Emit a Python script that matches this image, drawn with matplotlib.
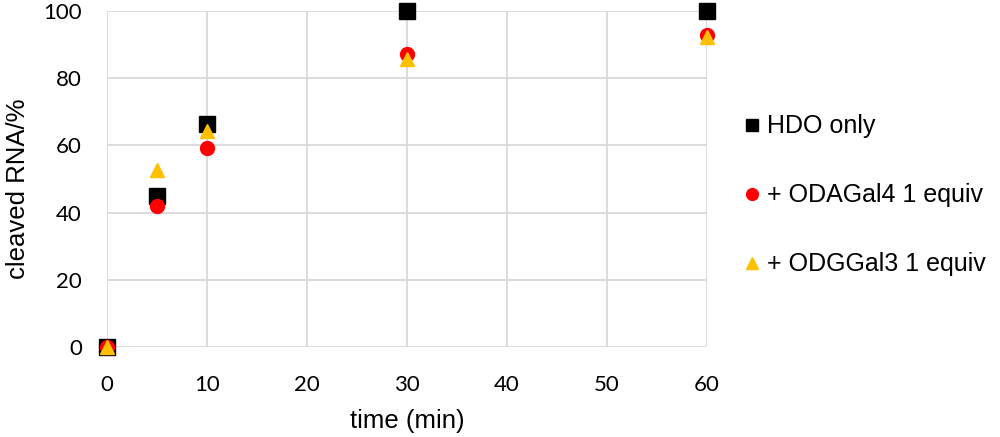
import numpy as np
import matplotlib.pyplot as plt

# time points (min)
time_min = [0, 5, 10, 30, 60]

# cleaved RNA (%)
hdo_only = [0, 45, 66.5, 100, 100]
odagal4 = [0, 42, 59.3, 87.3, 92.7]
odggal3 = [0, 52.7, 64.3, 85.8, 92.3]

labels = ['HDO only', '+ ODAGal4 1 equiv', '+ ODGGal3 1 equiv']

fig = plt.figure(figsize=(10, 4.37), dpi=100)
ax = fig.add_axes([0.107, 0.206, 0.6, 0.769])

ax.plot(time_min, hdo_only, 's', color='black', markersize=11, label=labels[0],
        clip_on=False, zorder=3)
ax.plot(time_min, odagal4, 'o', color='#ff0000', markersize=10, label=labels[1],
        clip_on=False, zorder=4)
ax.plot(time_min, odggal3, '^', color='#ffc000', markersize=9.5, label=labels[2],
        clip_on=False, zorder=5)

ax.set_xlim(0, 60)
ax.set_ylim(0, 100)
ax.set_xticks(np.arange(0, 61, 10))
ax.set_yticks(np.arange(0, 101, 20))
ax.grid(True, color='#d9d9d9', linewidth=1.3)
ax.set_axisbelow(True)
for s in ax.spines.values():
    s.set_visible(False)
ax.tick_params(axis='y', length=0, labelsize=16, pad=18)
ax.tick_params(axis='x', length=0, labelsize=16, pad=20)
for t in ax.get_xticklabels() + ax.get_yticklabels():
    t.set_fontfamily('Lato')

ax.set_xlabel('time (min)', fontsize=18.5, family='Liberation Sans', labelpad=10)
ax.set_ylabel('cleaved RNA/%', fontsize=18.5, family='Liberation Sans')
ax.yaxis.set_label_coords(-0.128, 0.47)

leg = fig.legend(loc='upper left', bbox_to_anchor=(0.722, 0.79), frameon=False,
                 prop={'family': 'Liberation Sans', 'size': 18},
                 labelspacing=1.8, handlelength=0.6, handletextpad=0.3,
                 markerscale=0.85)

fig.savefig('out.png', dpi=100)
